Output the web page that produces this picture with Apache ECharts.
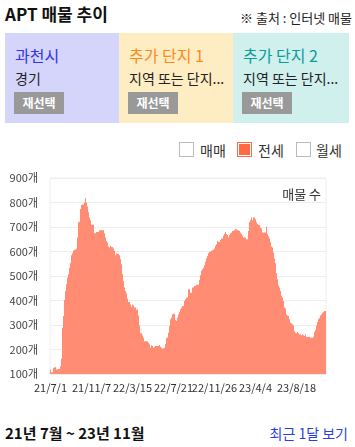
<!DOCTYPE html>
<html>
<head>
<meta charset="utf-8">
<script src="https://cdn.jsdelivr.net/npm/echarts@6/dist/echarts.min.js"></script>
<style>
  html, body { margin: 0; padding: 0; width: 355px; height: 447px; overflow: hidden; background: #fff;
    font-family: "Noto Sans CJK KR", "Noto Sans", sans-serif; color: #222; }
  .abs { position: absolute; white-space: nowrap; }
  #title { left: 5px; top: 1px; font-size: 17px; font-weight: bold; color: #111; }
  #src { right: 3px; top: 8px; font-size: 13px; color: #222; }
  .panel { position: absolute; top: 33px; height: 90px; width: 114px; }
  .panel .name { position: absolute; left: 10px; top: 10px; font-size: 16px; }
  .panel .sub { position: absolute; left: 10px; top: 35px; font-size: 14px; color: #222; }
  .panel .btn { position: absolute; left: 9px; top: 59px; width: 50px; height: 22px; line-height: 22px;
    background: #999; color: #fff; font-size: 12px; font-weight: bold; text-align: center; }
  .chk { position: absolute; top: 142px; width: 13px; height: 13px; border: 1px solid #bbb; background: #fff; }
  .chk.on { border-color: #ff6a45; }
  .chk.on::after { content: ""; position: absolute; left: 1px; top: 1px; width: 11px; height: 11px; background: #ff6a45; }
  .lbl { position: absolute; top: 140px; font-size: 14px; color: #333; }
  #range { left: 5px; top: 422px; font-size: 15px; font-weight: bold; color: #111; }
  #recent { right: 7px; top: 423px; font-size: 14px; color: #2a3fe0; }
  #chart { position: absolute; left: 0; top: 160px; width: 355px; height: 240px; }
</style>
</head>
<body>
<div id="title" class="abs">APT 매물 추이</div>
<div id="src" class="abs">※ 출처 : 인터넷 매물</div>

<div class="panel" style="left:5px;background:#d5d5fb;">
  <div class="name" style="color:#3434f0;">과천시</div>
  <div class="sub">경기</div>
  <div class="btn">재선택</div>
</div>
<div class="panel" style="left:119px;background:#feecc2;">
  <div class="name" style="color:#ff8a1c;">추가 단지 1</div>
  <div class="sub">지역 또는 단지...</div>
  <div class="btn">재선택</div>
</div>
<div class="panel" style="left:233px;width:116px;background:#d0f0ee;">
  <div class="name" style="color:#0c9c98;">추가 단지 2</div>
  <div class="sub">지역 또는 단지...</div>
  <div class="btn">재선택</div>
</div>

<div class="chk" style="left:179px;"></div><div class="lbl" style="left:200px;">매매</div>
<div class="chk on" style="left:237px;"></div><div class="lbl" style="left:258px;">전세</div>
<div class="chk" style="left:296px;"></div><div class="lbl" style="left:316px;">월세</div>

<div id="chart"></div>

<div id="range" class="abs">21년 7월 ~ 23년 11월</div>
<div id="recent" class="abs">최근 1달 보기</div>

<script>
// ========== 데이터 ==========
const tickLabels = ['21/7/1', '21/11/7', '22/3/15', '22/7/21', '22/11/26', '23/4/4', '23/8/18'];
const TICK_STEP = 41;

// 전세 매물 수 (약 3일 간격)
const counts = [
  118, 107, 107, 125, 128, 128, 118, 118, 120, 120, 132, 162, 289, 337, 402, 439, 466, 494, 507, 534,
  552, 585, 593, 603, 607, 607, 612, 657, 719, 721, 773, 790, 792, 792, 800, 817, 800, 784, 760, 739,
  728, 709, 709, 709, 675, 675, 680, 680, 680, 687, 687, 687, 687, 687, 675, 657, 643, 637, 620, 616,
  623, 618, 618, 612, 603, 585, 593, 590, 590, 585, 569, 548, 507, 480, 453, 439, 429, 408, 394, 394,
  384, 375, 384, 380, 371, 371, 361, 364, 339, 298, 266, 266, 258, 248, 234, 234, 234, 234, 228, 221,
  207, 217, 214, 207, 211, 214, 214, 214, 214, 218, 211, 207, 204, 204, 207, 221, 248, 248, 268, 296,
  323, 330, 343, 346, 346, 320, 316, 330, 343, 353, 364, 371, 378, 378, 398, 405, 412, 412, 446, 446,
  432, 432, 453, 453, 459, 459, 464, 464, 464, 484, 503, 521, 528, 534, 544, 558, 571, 582, 593, 599,
  599, 604, 604, 607, 612, 623, 630, 643, 639, 639, 647, 653, 653, 664, 671, 680, 671, 667, 657, 667,
  675, 678, 684, 684, 687, 691, 691, 687, 687, 684, 678, 671, 664, 657, 657, 657, 650, 650, 684, 719,
  728, 739, 728, 739, 739, 732, 719, 712, 708, 708, 698, 694, 678, 678, 678, 678, 701, 671, 662, 653,
  639, 620, 616, 596, 571, 552, 511, 487, 462, 453, 439, 419, 412, 398, 371, 367, 343, 339, 337, 323,
  309, 307, 303, 298, 275, 268, 266, 271, 266, 262, 262, 258, 262, 258, 255, 262, 251, 251, 251, 251,
  248, 248, 248, 252, 271, 280, 298, 312, 323, 330, 339, 343, 350, 353, 357, 357
];

const categories = counts.map((_, i) => i);

// ========== 차트 ==========
const chart = echarts.init(document.getElementById('chart'));
chart.setOption({
  animation: false,
  title: {
    text: '매물 수',
    right: 29,
    top: 23,
    textStyle: { fontSize: 13, fontWeight: 'normal', color: '#333', fontFamily: 'Noto Sans CJK KR' }
  },
  grid: { left: 50, right: 29, top: 18, bottom: 26, show: true, borderColor: '#eee', borderWidth: 1 },
  xAxis: {
    type: 'category',
    data: categories,
    axisLine: { show: false },
    axisTick: { show: false },
    axisLabel: {
      interval: TICK_STEP - 1,
      margin: 8,
      fontSize: 11,
      color: '#333',
      fontFamily: 'Noto Sans CJK KR',
      formatter: (v, i) => tickLabels[Math.round(i / TICK_STEP)] || ''
    }
  },
  yAxis: {
    type: 'value',
    min: 100,
    max: 900,
    interval: 100,
    axisLine: { show: false },
    axisTick: { show: false },
    splitLine: { lineStyle: { color: '#eee' } },
    axisLabel: { fontSize: 11, color: '#444', margin: 12, fontFamily: 'Noto Sans CJK KR', formatter: '{value}개' }
  },
  series: [{
    name: '전세',
    type: 'bar',
    data: counts,
    barCategoryGap: 0,
    itemStyle: { color: '#ff8c73' }
  }]
});
</script>
</body>
</html>
